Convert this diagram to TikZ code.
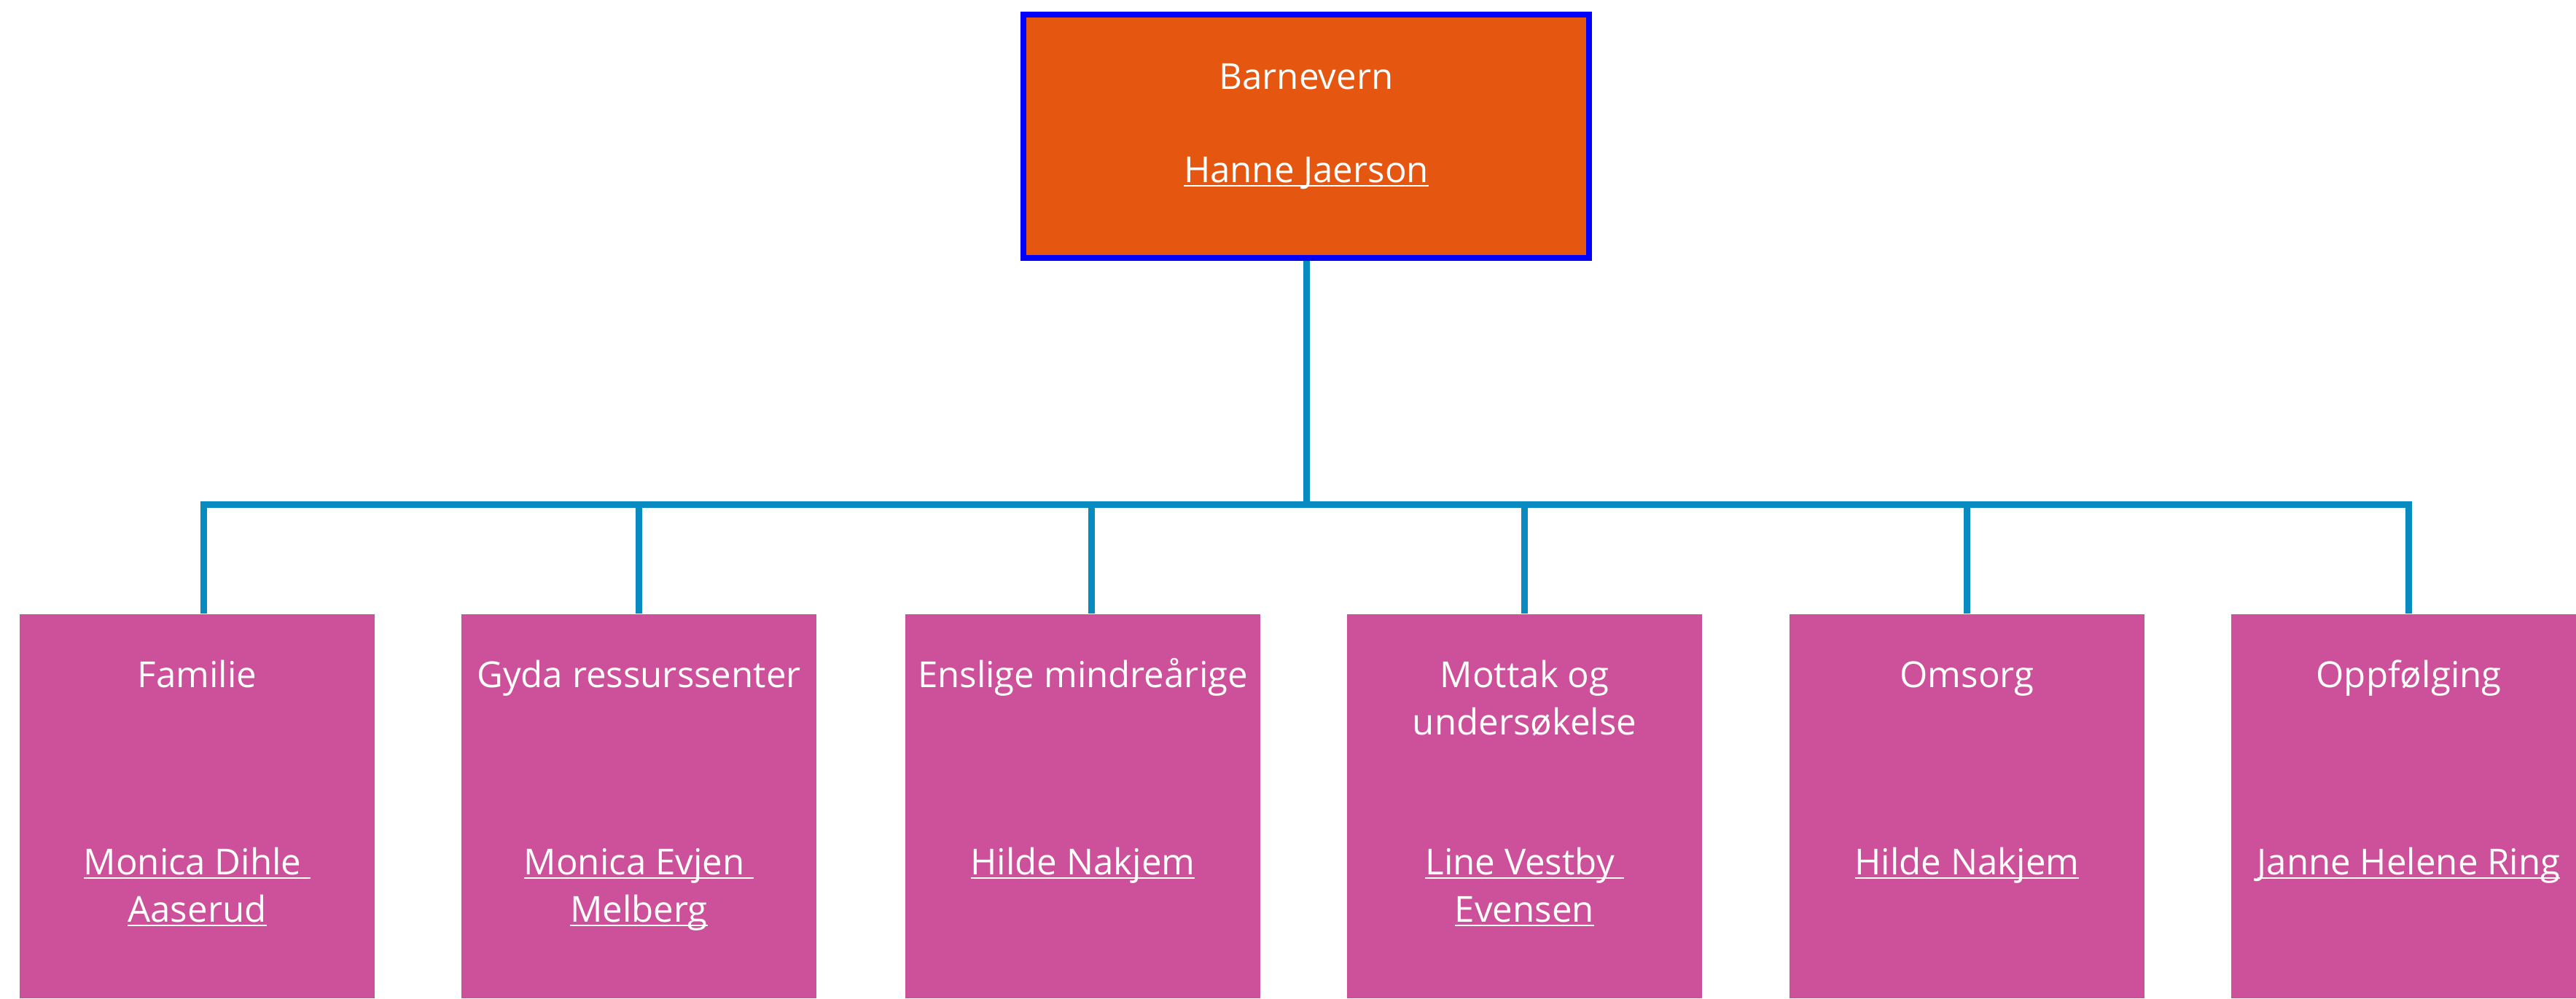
\documentclass[tikz,border=0pt]{standalone}
\usepackage{fontspec}
\setmainfont{Open Sans}
\usepackage{xcolor}
\definecolor{headorange}{RGB}{229,86,17}
\definecolor{unitpink}{RGB}{205,80,154}
\definecolor{linkblue}{RGB}{7,139,192}
\newsavebox{\ulbox}
\newcommand{\ulname}[1]{\sbox{\ulbox}{#1}\rlap{\rule[-1.7pt]{\wd\ulbox}{0.6pt}}\usebox{\ulbox}}
\tikzset{head/.style={draw=blue,line width=0.08cm,fill=headorange,
   minimum width=7.76cm,minimum height=3.34cm},
 unit/.style={fill=unitpink,minimum width=4.87cm,minimum height=5.27cm},
 boxtext/.style={text=white,align=center,anchor=base,
   font=\fontsize{14pt}{18.45pt}\selectfont},
 conn/.style={draw=linkblue,line width=0.09cm},
 }

\begin{document}
\begin{tikzpicture}
        \useasboundingbox (0,0) rectangle (35.34,-13.70);
        % boxes
        \node[head] (top) at (17.92,-1.87) {};
        \node[unit] (fam) at (2.705,-11.065) {};
        \node[unit] (gyda) at (8.765,-11.065) {};
        \node[unit] (ensl) at (14.855,-11.065) {};
        \node[unit] (mott) at (20.915,-11.065) {};
        \node[unit] (oms) at (26.985,-11.065) {};
        \node[unit] (oppf) at (33.045,-11.065) {};
        % connectors
        \coordinate (bus) at (17.92,-6.92);
        \draw[conn] (top.south) -- (bus) -| ([xshift=0.085cm]fam.north);
        \draw[conn] (top.south) -- (bus) -| (gyda.north);
        \draw[conn] (top.south) -- (bus) -| ([xshift=0.115cm]ensl.north);
        \draw[conn] (top.south) -- (bus) -| (mott.north);
        \draw[conn] (top.south) -- (bus) -| (oms.north);
        \draw[conn] (top.south) -- (bus) -| (oppf.north);
        % texts (base = last line)
        \node[boxtext] (topname) at (17.92,-1.22) {Barnevern};
        \node[boxtext] (toplead) at (17.92,-2.50) {\ulname{Hanne Jaerson}};
        \node[boxtext] (famname) at (2.705,-9.435) {Familie};
        \node[boxtext] (famlead) at (2.705,-12.65) {\ulname{Monica Dihle~}\\\ulname{Aaserud}};
        \node[boxtext] (gydaname) at (8.765,-9.435) {Gyda ressurssenter};
        \node[boxtext] (gydalead) at (8.765,-12.65) {\ulname{Monica Evjen~}\\\ulname{Melberg}};
        \node[boxtext] (enslname) at (14.855,-9.435) {Enslige mindreårige};
        \node[boxtext] (ensllead) at (14.855,-12.0) {\ulname{Hilde Nakjem}};
        \node[boxtext] (mottname) at (20.915,-10.085) {Mottak og\\undersøkelse};
        \node[boxtext] (mottlead) at (20.915,-12.65) {\ulname{Line Vestby~}\\\ulname{Evensen}};
        \node[boxtext] (omsname) at (26.985,-9.435) {Omsorg};
        \node[boxtext] (omslead) at (26.985,-12.0) {\ulname{Hilde Nakjem}};
        \node[boxtext] (oppfname) at (33.045,-9.435) {Oppfølging};
        \node[boxtext] (oppflead) at (33.045,-12.0) {\ulname{Janne Helene Ring}};
    \end{tikzpicture}
\end{document}
